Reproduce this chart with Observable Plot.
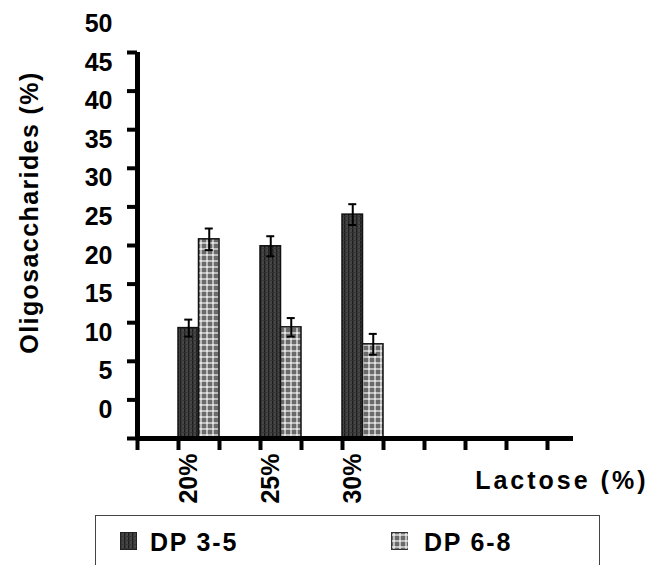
<!DOCTYPE html>
<html>
<head>
<meta charset="utf-8">
<script src="https://cdn.jsdelivr.net/npm/d3@7"></script>
<script src="https://cdn.jsdelivr.net/npm/@observablehq/plot@0.6"></script>
<style>
  body { margin: 0; background: #fff; font-family: "Liberation Sans", Arial, sans-serif; }
  #chart svg { display: block; }
  .ytitle { letter-spacing: 1.4px; }
  .xtitle { letter-spacing: 3px; }
  #legend { position: relative; margin-left: 95px; margin-top: 3px; width: 505px; height: 70px;
            border: 1.5px solid #444; box-sizing: border-box; }
  .item { position: absolute; top: 14px; font-size: 25px; line-height: 25px; font-weight: bold;
          letter-spacing: 1.8px; color: #000; white-space: nowrap; }
  .sw { position: absolute; top: 16px; width: 17px; height: 18px; }
</style>
</head>
<body>
<div id="chart"></div>
<div id="legend">
  <svg class="sw" style="left:24px" width="17" height="18"><rect x="0.5" y="0.5" width="16" height="17" fill="url(#p35)" stroke="#222"/></svg>
  <span class="item" style="left:54px">DP 3-5</span>
  <svg class="sw" style="left:295px" width="20" height="18"><rect x="0.5" y="0.5" width="19" height="17" fill="url(#p68)" stroke="#333"/></svg>
  <span class="item" style="left:328px">DP 6-8</span>
</div>
<script>
// ---- data ----
const lactose = ["20%", "25%", "30%"];
const slot = [1, 3, 5];                 // category slot on the axis
const dp35 = [9.3, 19.9, 24.0];
const dp35Err = [1.1, 1.3, 1.35];
const dp68 = [20.8, 9.4, 7.2];
const dp68Err = [1.4, 1.2, 1.35];
const yTicks = [-5, 0, 5, 10, 15, 20, 25, 30, 35, 40, 45];
const yTickLabels = [0, 5, 10, 15, 20, 25, 30, 35, 40, 45, 50];
const xTicks = [0, 1, 2, 3, 4, 5, 6, 7, 8, 9, 10];
const Y_BASE = -5;

const rows35 = lactose.map((c, i) => ({c, s: slot[i], v: dp35[i], e: dp35Err[i], off: 0}));
const rows68 = lactose.map((c, i) => ({c, s: slot[i], v: dp68[i], e: dp68Err[i], off: 0.5}));
const rows = rows35.concat(rows68);

const font = "Liberation Sans, Arial, sans-serif";

const plot = Plot.plot({
  width: 652,
  height: 512,
  marginLeft: 137,
  marginRight: 79,
  marginTop: 52,
  marginBottom: 74,
  style: {fontFamily: font, background: "#fff", overflow: "visible"},
  x: {domain: [0, 11], range: [137, 588]},
  y: {domain: [-5, 45]},
  marks: [
    Plot.rectY(rows35, {x1: d => d.s + d.off, x2: d => d.s + d.off + 0.5, y1: Y_BASE, y2: "v",
      fill: "url(#p35)", stroke: "#111", strokeWidth: 1.5}),
    Plot.rectY(rows68, {x1: d => d.s + d.off, x2: d => d.s + d.off + 0.5, y1: Y_BASE, y2: "v",
      fill: "url(#p68)", stroke: "#111", strokeWidth: 1.5}),
    // error bars
    Plot.ruleX(rows, {x: d => d.s + d.off + 0.25, y1: d => d.v - d.e, y2: d => d.v + d.e, stroke: "#000", strokeWidth: 2}),
    Plot.ruleY(rows, {y: d => d.v + d.e, x1: d => d.s + d.off + 0.25, x2: d => d.s + d.off + 0.25,
      insetLeft: -4, insetRight: -4, stroke: "#000", strokeWidth: 2}),
    Plot.ruleY(rows, {y: d => d.v - d.e, x1: d => d.s + d.off + 0.25, x2: d => d.s + d.off + 0.25,
      insetLeft: -4, insetRight: -4, stroke: "#000", strokeWidth: 2}),
    // axes
    Plot.ruleY([Y_BASE], {stroke: "#000", strokeWidth: 5}),
    Plot.ruleX([0], {stroke: "#000", strokeWidth: 5}),
    Plot.axisY({ticks: yTicks, tickSize: 10, tickFormat: () => "", label: null, strokeWidth: 4, stroke: "#000"}),
    Plot.axisX({ticks: xTicks, tickSize: 12, tickFormat: () => "", label: null, strokeWidth: 4, stroke: "#000"}),
    Plot.text(yTickLabels, {x: 0, y: d => d, text: d => String(d), textAnchor: "end", dx: -25, dy: 10,
      fontSize: 25, fontWeight: "bold", fill: "#000"}),
    Plot.text(rows35, {x: d => d.s + 0.5, y: Y_BASE, text: "c", rotate: -90, textAnchor: "end",
      dx: -10, dy: 15, fontSize: 25, fontWeight: "bold", fill: "#000"}),
    Plot.text(["Oligosaccharides (%)"], {frameAnchor: "left", rotate: -90, textAnchor: "middle", lineAnchor: "middle",
      dx: -108, dy: -33, fontSize: 25, fontWeight: "bold", fill: "#000", className: "ytitle"}),
    Plot.text(["Lactose (%)"], {frameAnchor: "bottom-right", textAnchor: "end", lineAnchor: "middle", dx: 75, dy: 42,
      fontSize: 25, fontWeight: "bold", fill: "#000", className: "xtitle"})
  ]
});

// patterns for the bars
const ns = "http://www.w3.org/2000/svg";
const defs = document.createElementNS(ns, "defs");
defs.innerHTML = `
  <pattern id="p35" width="4" height="4" patternUnits="userSpaceOnUse">
    <rect width="4" height="4" fill="#464646"/>
    <rect x="0" width="1.4" height="4" fill="#1e1e1e"/>
    <rect y="0" width="4" height="0.8" fill="#333"/>
  </pattern>
  <pattern id="p68" width="6" height="6" patternUnits="userSpaceOnUse">
    <rect width="6" height="6" fill="#6a6a6a"/>
    <rect x="2" width="2" height="6" fill="#bdbdbd"/>
    <rect y="2" width="6" height="2" fill="#bdbdbd"/>
    <rect x="2" y="2" width="2" height="2" fill="#e4e4e4"/>
  </pattern>`;
plot.insertBefore(defs, plot.firstChild);
document.getElementById("chart").appendChild(plot);
</script>
</body>
</html>
